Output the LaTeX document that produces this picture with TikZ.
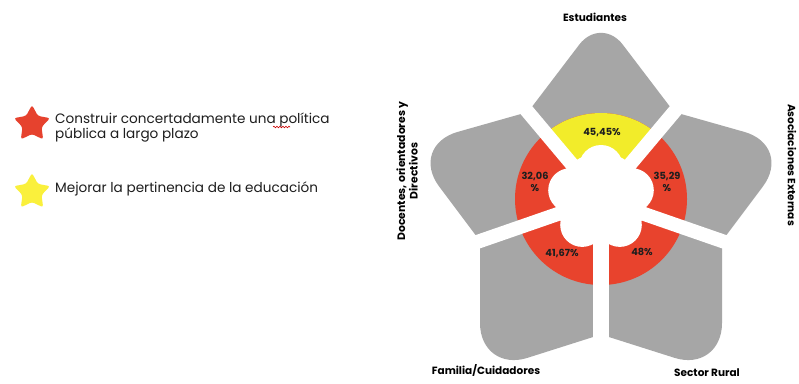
\documentclass[tikz,border=0pt]{standalone}
\usepackage{fontspec}
\setmainfont{Poppins}
\usetikzlibrary{shapes.geometric,decorations.pathmorphing}
\definecolor{petal}{RGB}{166,166,166}
\definecolor{ringred}{RGB}{232,67,45}
\definecolor{ringyel}{RGB}{242,236,42}
\definecolor{starred}{RGB}{230,66,46}
\definecolor{staryel}{RGB}{250,240,60}
\definecolor{txt}{RGB}{30,30,30}
\begin{document}
\begin{tikzpicture}[x=1pt,y=-1pt,
  petalfill/.style={fill=petal},
  gapline/.style={draw=white, line width=14pt},
  pct/.style={font=\fontsize{9.8}{12}\selectfont\bfseries, text=txt, inner sep=0pt, align=center},
  lab/.style={font=\fontsize{10.5}{12}\selectfont\bfseries, text=black, inner sep=0pt, align=center},
  legend/.style={font=\fontsize{13.6}{16}\selectfont, text=txt, inner sep=0pt, anchor=base west},
  legstar/.style={star, star points=5, star point ratio=1.9, minimum size=38pt, inner sep=0pt, rounded corners=2.5pt}
]
\useasboundingbox (0,0) rectangle (799,383);
\fill[white] (0,0) rectangle (799,383);

% key points
\coordinate (C) at (601,199);
\coordinate (Q130) at (528,112);
\coordinate (Q50) at (674,112);
\coordinate (Q199) at (480,241);
\coordinate (Q340) at (722,241);
\coordinate (Q270) at (601,334.5);

% petals
\fill[petalfill] (C) -- (Q130) -- (579.2,44.7) .. controls (591.2,28.9) and (610.8,28.9) .. (622.8,44.7) -- (Q50) -- cycle;
\fill[petalfill] (C) -- (Q130) -- (457.7,131.9) .. controls (430.7,139.6) and (422.4,164.2) .. (439.2,186.6) -- (Q199) -- cycle;
\fill[petalfill] (C) -- (Q50) -- (744.3,131.9) .. controls (771.3,139.6) and (779.6,164.2) .. (762.8,186.6) -- (Q340) -- cycle;
\fill[petalfill] (C) -- (Q199) -- (480,323) .. controls (480,350.5) and (501.4,366.2) .. (527.6,357.8) -- (Q270) -- cycle;
\fill[petalfill] (C) -- (Q340) -- (722,323) .. controls (722,350.5) and (700.6,366.2) .. (674.4,357.8) -- (Q270) -- cycle;

% gap end points
\coordinate (G130) at (459.5,30.5);
\coordinate (G50) at (742.5,30.5);
\coordinate (G199) at (393.2,271.1);
\coordinate (G340) at (808.8,271.1);
\coordinate (G270) at (601,420);

% ring
\fill[ringred] (C) circle[radius=86];
\begin{scope}
  \clip (C) circle[radius=86];
  \fill[ringyel] (C) -- (G130) -- (G50) -- cycle;
\end{scope}

% gaps
\draw[gapline] (C) -- (G130);
\draw[gapline] (C) -- (G50);
\draw[gapline] (C) -- (G199);
\draw[gapline] (C) -- (G340);
\draw[gapline, line width=16pt] (C) -- (G270);

% percentages
\node[pct] (p1) at (602,133) {45,45\%};
\node[pct] (p2) at (535,182) {32,06\\\%};
\node[pct] (p3) at (667,182) {35,29\\\%};
\node[pct] (p4) at (562,253) {41,67\%};
\node[pct] (p5) at (642,252) {48\%};

% inner hole
\fill[white] (C) circle[radius=46];
\fill[white] (601,167) circle[radius=22];
\fill[white] (631.8,190.2) circle[radius=22];
\fill[white] (570.2,190.2) circle[radius=22];
\fill[white] (582.2,224.9) circle[radius=22];
\fill[white] (619.8,224.9) circle[radius=22];

% outer labels
\node[lab] (l1) at (595,17) {Estudiantes};
\node[lab, rotate=90, font=\fontsize{10.8}{12.5}\selectfont\bfseries] (l2) at (407,171) {Docentes, orientadores y\\Directivos};
\node[lab, rotate=-90] (l3) at (792,165) {Asociaciones Externas};
\node[lab] (l4) at (486,370) {Familia/Cuidadores};
\node[lab] (l5) at (707,373) {Sector Rural};

% legend
\node[legstar, fill=starred] (s1) at (32,124) {};
\node[legstar, fill=staryel] (s2) at (32,192) {};
\node[legend] (t1) at (55,123) {Construir concertadamente una política};
\node[legend] (t2) at (55,138.5) {pública a largo plazo};
\node[legend] (t3) at (55,192) {Mejorar la pertinencia de la educación};
\coordinate (sq1) at (273,127);
\coordinate (sq2) at (290,127);
\draw[red!80!black, line width=0.6pt, decorate, decoration={snake, amplitude=0.8pt, segment length=3pt}] (sq1) -- (sq2);
\end{tikzpicture}
\end{document}
